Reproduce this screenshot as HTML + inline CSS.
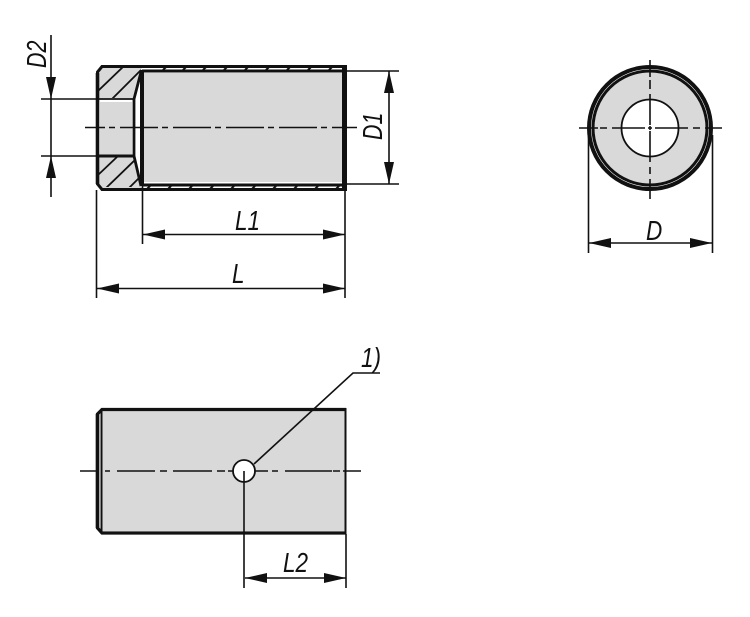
<!DOCTYPE html>
<html>
<head>
<meta charset="utf-8">
<style>
html,body{margin:0;padding:0;background:#fff;width:750px;height:617px;overflow:hidden}
svg{display:block}
text{font-family:"Liberation Sans",sans-serif;font-style:italic;font-size:27.500px;fill:#111}
</style>
</head>
<body>
<svg width="750" height="617" viewBox="0 0 750 617" xmlns="http://www.w3.org/2000/svg">
<defs>
<clipPath id="h1"><polygon points="99,73 103,68 141,68 134,98 99,98"/></clipPath>
<clipPath id="h2"><polygon points="99,157 134,157 141,187 103,187 99,183"/></clipPath>
</defs>

<!-- top view fills -->
<polygon points="98,73 102,67 142,67 135,98 98,98" fill="#d9d9d9"/>
<polygon points="98,157 135,157 142,188 102,188 98,183" fill="#d9d9d9"/>
<rect x="100" y="102" width="32" height="53" fill="#d9d9d9"/>
<rect x="144" y="73" width="198" height="109" fill="#d9d9d9"/>

<!-- hatch -->
<g stroke="#111" stroke-width="1.800">
<g clip-path="url(#h1)">
<line x1="98" y1="91" x2="125" y2="65"/>
<line x1="112" y1="99" x2="146" y2="65"/>
</g>
<g clip-path="url(#h2)">
<line x1="98" y1="175" x2="117" y2="157"/>
<line x1="105" y1="189" x2="137" y2="158"/>
<line x1="128" y1="189" x2="142" y2="175"/>
</g>
<!-- thread ticks -->
<path d="M163 70l3-3M183 70l3-3M203 70l3-3M224 70l3-3M245 70l3-3M266 70l3-3M287 70l3-3M308 70l3-3M329 70l3-3M147 189l3-3M168 189l3-3M189 189l3-3M210 189l3-3M231 189l3-3M252 189l3-3M273 189l3-3M294 189l3-3M315 189l3-3M336 189l3-3" stroke-width="2"/>
</g>

<!-- top view outline -->
<g fill="none" stroke="#111">
<path d="M344 66.500H102L97.500 72V184L102 189.500H344" stroke-width="3"/>
<line x1="142" y1="71" x2="344" y2="71" stroke-width="3"/>
<line x1="142" y1="185" x2="344" y2="185" stroke-width="3"/>
<line x1="344.500" y1="65" x2="344.500" y2="191" stroke-width="5"/>
<line x1="142" y1="70" x2="142" y2="186" stroke-width="4"/>
<path d="M141 72L134 99V156L141 186" stroke-width="2.800"/>
<line x1="98" y1="156" x2="134" y2="156" stroke-width="3"/>
<line x1="97.500" y1="99" x2="134" y2="99" stroke-width="1.800"/>
<line x1="97.500" y1="73" x2="97.500" y2="184" stroke-width="3.600"/>
</g>

<!-- top view dimension lines -->
<g stroke="#111" stroke-width="1.600" fill="none">
<line x1="41" y1="99" x2="98" y2="99"/>
<line x1="41" y1="156" x2="98" y2="156"/>
<line x1="51" y1="35" x2="51" y2="197"/>
<line x1="346" y1="71" x2="399" y2="71"/>
<line x1="346" y1="184" x2="399" y2="184"/>
<line x1="389" y1="71" x2="389" y2="184"/>
<line x1="96.500" y1="190" x2="96.500" y2="298"/>
<line x1="142.500" y1="186" x2="142.500" y2="244"/>
<line x1="345" y1="190" x2="345" y2="298"/>
<line x1="143" y1="234.500" x2="345" y2="234.500"/>
<line x1="97" y1="288.500" x2="345" y2="288.500"/>
<path d="M85 127.500H105M109 127.500H115M120 127.500H158M162 127.500H168M173 127.500H211M215 127.500H221M226 127.500H264M268 127.500H274M279 127.500H317M321 127.500H327M332 127.500H357"/>
</g>
<g fill="#111">
<polygon points="51,99 46,77 56,77"/>
<polygon points="51,156 46,178 56,178"/>
<polygon points="389,71 384,93 394,93"/>
<polygon points="389,184 384,162 394,162"/>
<polygon points="143,234.500 165,229.500 165,239.500"/>
<polygon points="345,234.500 323,229.500 323,239.500"/>
<polygon points="97,288.500 119,283.500 119,293.500"/>
<polygon points="345,288.500 323,283.500 323,293.500"/>
</g>

<text transform="translate(46,68) rotate(-90) scale(.78,1)">D2</text>
<text transform="translate(382,140) rotate(-90) scale(.78,1)">D1</text>
<text transform="translate(235,230) scale(.82,1)">L1</text>
<text transform="translate(232,283) scale(.82,1)">L</text>

<!-- circle view -->
<circle cx="650" cy="128" r="57" fill="#d9d9d9"/>
<circle cx="650" cy="128" r="61" fill="none" stroke="#111" stroke-width="4"/>
<circle cx="650" cy="128" r="57" fill="none" stroke="#111" stroke-width="3"/>
<circle cx="650" cy="128" r="28.500" fill="#fff" stroke="#111" stroke-width="1.800"/>
<g stroke="#111" stroke-width="1.600" fill="none">
<path d="M579 128H598M600 128H607M612 128H645M648 128H652M655 128H688M693 128H700M705 128H722"/>
<path d="M650 60V77M650 80V89M650 94V125M650 126V130M650 131V162M650 167V174M650 179V199"/>
<line x1="588.500" y1="135" x2="588.500" y2="253"/>
<line x1="712.500" y1="135" x2="712.500" y2="253"/>
<line x1="589" y1="243" x2="712" y2="243"/>
</g>
<g fill="#111">
<polygon points="589,243 611,238 611,248"/>
<polygon points="712,243 690,238 690,248"/>
</g>
<text transform="translate(646,240) scale(.82,1)">D</text>

<!-- bottom view -->
<rect x="102" y="411" width="243" height="120" fill="#d9d9d9"/>
<g fill="none" stroke="#111">
<path d="M346 409.500H102L97.500 414V528L102 533H346" stroke-width="3.200"/>
<line x1="97.500" y1="414" x2="97.500" y2="528" stroke-width="3.600"/>
<line x1="101.500" y1="409" x2="101.500" y2="533" stroke-width="2"/>
<line x1="345.500" y1="408" x2="345.500" y2="534" stroke-width="2"/>
</g>
<circle cx="244" cy="471" r="11" fill="#fff" stroke="#111" stroke-width="1.800"/>
<g stroke="#111" stroke-width="1.600" fill="none">
<path d="M80 471H97M105 471H110M117 471H155M160 471H167M173 471H212M217 471H225M228 471H233M255 471H268M272 471H278M285 471H332M333 471H340M343 471H361"/>
<path d="M254 464L353 373H380"/>
<line x1="244" y1="471" x2="244" y2="588"/>
<line x1="346" y1="534" x2="346" y2="588"/>
<line x1="245" y1="578" x2="346" y2="578"/>
</g>
<g fill="#111">
<polygon points="245,578 267,573 267,583"/>
<polygon points="346,578 324,573 324,583"/>
</g>
<text transform="translate(283,572) scale(.82,1)">L2</text>
<text transform="translate(361,367) scale(.82,1)">1)</text>
</svg>
</body>
</html>
